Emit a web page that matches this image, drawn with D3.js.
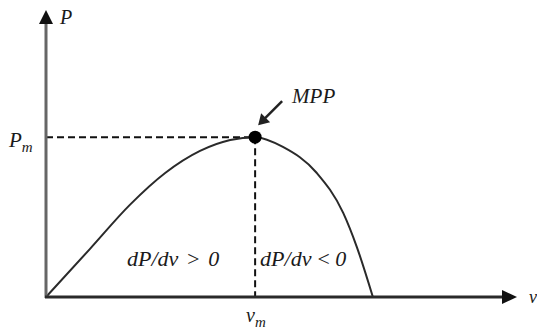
<!DOCTYPE html>
<html><head><meta charset="utf-8">
<script src="https://cdn.jsdelivr.net/npm/d3@7"></script>
<style>html,body{margin:0;padding:0;background:#fff;overflow:hidden}</style>
</head><body>
<svg id="c" width="537" height="331"></svg>
<script>
// Normalized voltage and power values read from the P–v curve
const voltage = [0, 0.093, 0.178, 0.253, 0.327, 0.391, 0.444, 0.503, 0.575, 0.631, 0.660, 0.694];
const power   = [0, 0.167, 0.321, 0.432, 0.509, 0.547, 0.557, 0.523, 0.432, 0.293, 0.174, 0];
const mppIndex = 6;
const labels = {yAxis: "P", xAxis: "v", pm: "P", vm: "v", sub: "m", mpp: "MPP", left: "dP/dv > 0", right: "dP/dv < 0"};

const svg = d3.select("#c");
const x = d3.scaleLinear().domain([0, 1]).range([46, 517]);
const y = d3.scaleLinear().domain([0, 1]).range([297, 10]);
const font = "'Liberation Serif', 'DejaVu Serif', serif";

const vm = voltage[mppIndex], pm = power[mppIndex];

// dashed guides
svg.append("line").attr("x1", x(0)).attr("x2", x(vm)).attr("y1", y(pm)).attr("y2", y(pm))
  .attr("stroke", "#111").attr("stroke-width", 2).attr("stroke-dasharray", "7,4");
svg.append("line").attr("x1", x(vm)).attr("x2", x(vm)).attr("y1", y(pm)).attr("y2", y(0))
  .attr("stroke", "#111").attr("stroke-width", 2).attr("stroke-dasharray", "7,4");

// curve
const line = d3.line().x((d, i) => x(voltage[i])).y(d => y(d)).curve(d3.curveMonotoneX);
svg.append("path").attr("d", line(power)).attr("fill", "none").attr("stroke", "#2a2a2a").attr("stroke-width", 2);

// axes
svg.append("line").attr("x1", x(0)).attr("x2", x(0)).attr("y1", y(0) + 1).attr("y2", y(1) + 12)
  .attr("stroke", "#666").attr("stroke-width", 3);
svg.append("line").attr("x1", x(0) - 1).attr("x2", x(1) - 12).attr("y1", y(0)).attr("y2", y(0))
  .attr("stroke", "#2a2a2a").attr("stroke-width", 3);
// arrowheads
svg.append("path").attr("d", `M${x(0)},${y(1)} L${x(0) - 7},${y(1) + 14} L${x(0) + 7},${y(1) + 14} Z`).attr("fill", "#111");
svg.append("path").attr("d", `M${x(1)},${y(0)} L${x(1) - 15},${y(0) - 7} L${x(1) - 15},${y(0) + 7} Z`).attr("fill", "#111");

// MPP dot
svg.append("circle").attr("cx", x(vm)).attr("cy", y(pm)).attr("r", 6.5).attr("fill", "#000");

// MPP arrow
const ax1 = x(vm) + 27, ay1 = y(pm) - 36, ax2 = x(vm) + 3, ay2 = y(pm) - 12;
svg.append("line").attr("x1", ax1).attr("y1", ay1).attr("x2", ax2 + 5).attr("y2", ay2 - 5)
  .attr("stroke", "#222").attr("stroke-width", 2.5);
svg.append("path").attr("d", `M${ax2},${ay2} L${ax2 + 3},${ay2 - 12} L${ax2 + 12},${ay2 - 3} Z`).attr("fill", "#222");

const t = (txt, px, py, size, anchor) => svg.append("text").attr("x", px).attr("y", py)
  .attr("font-family", font).attr("font-style", "italic").attr("font-size", size)
  .attr("text-anchor", anchor || "start").attr("fill", "#1a1a1a").text(txt);

t(labels.yAxis, x(0) + 14, y(1) + 14, 20);
t(labels.xAxis, x(1) + 12, y(0) + 6, 18);
const pmT = t(labels.pm, 9, y(pm) + 10, 21);
pmT.append("tspan").attr("font-size", 15).attr("dy", 5).text(labels.sub);
const vmT = t(labels.vm, x(vm) - 9, y(0) + 25, 20);
vmT.append("tspan").attr("font-size", 15).attr("dy", 5).text(labels.sub);
t(labels.mpp, x(vm) + 37, y(pm) - 34, 21);
t(labels.left, x(0) + 81, y(0) - 31, 22).attr("word-spacing", 2);
t(labels.right, x(vm) + 5, y(0) - 31, 22).attr("word-spacing", -1);
</script>
</body></html>
